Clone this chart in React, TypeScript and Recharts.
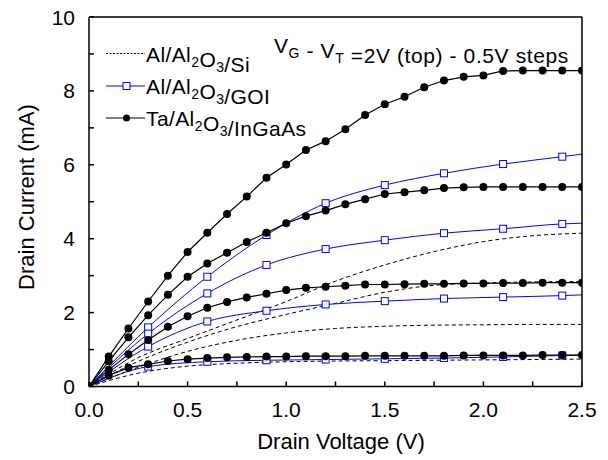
import { LineChart, Line, XAxis, YAxis } from "recharts";

// drain voltage grids (V)
const vFine = [0, 0.1, 0.2, 0.3, 0.4, 0.5, 0.6, 0.7, 0.8, 0.9, 1.0, 1.1, 1.2, 1.3, 1.4, 1.5, 1.6, 1.7, 1.8, 1.9, 2.0, 2.1, 2.2, 2.3, 2.4, 2.5];
const vGoi = [0, 0.3, 0.6, 0.9, 1.2, 1.5, 1.8, 2.1, 2.4, 2.5];
const vSi = [0, 0.25, 0.5, 0.75, 1.0, 1.25, 1.5, 1.75, 2.0, 2.25, 2.5];

// Ta/Al2O3/InGaAs (mA), VG-VT = 2, 1.5, 1, 0.5 V
const ingaas20 = [0, 0.81, 1.57, 2.3, 3.0, 3.64, 4.16, 4.67, 5.14, 5.65, 6.01, 6.4, 6.64, 6.96, 7.35, 7.64, 7.84, 8.1, 8.28, 8.38, 8.42, 8.54, 8.55, 8.55, 8.55, 8.55];
const ingaas15 = [0, 0.68, 1.33, 1.93, 2.48, 2.97, 3.33, 3.62, 3.91, 4.16, 4.42, 4.61, 4.76, 4.93, 5.07, 5.21, 5.26, 5.31, 5.37, 5.39, 5.4, 5.4, 5.4, 5.4, 5.4, 5.4];
const ingaas10 = [0, 0.45, 0.87, 1.26, 1.62, 1.9, 2.13, 2.29, 2.41, 2.51, 2.61, 2.67, 2.7, 2.73, 2.76, 2.76, 2.77, 2.78, 2.78, 2.79, 2.79, 2.8, 2.8, 2.81, 2.81, 2.81];
const ingaas05 = [0, 0.3, 0.51, 0.6, 0.69, 0.74, 0.77, 0.79, 0.8, 0.81, 0.81, 0.82, 0.82, 0.82, 0.83, 0.83, 0.83, 0.83, 0.83, 0.84, 0.84, 0.84, 0.84, 0.85, 0.85, 0.85];

// Al/Al2O3/GOI (mA)
const goi20 = [0, 1.6, 2.97, 4.1, 4.96, 5.45, 5.77, 6.02, 6.22, 6.29];
const goi15 = [0, 1.43, 2.52, 3.29, 3.72, 3.96, 4.15, 4.27, 4.4, 4.42];
const goi10 = [0, 1.08, 1.76, 2.05, 2.22, 2.31, 2.38, 2.42, 2.46, 2.48];
const goi05 = [0, 0.54, 0.67, 0.71, 0.73, 0.75, 0.77, 0.8, 0.84, 0.85];

// Al/Al2O3/Si (mA)
const si20 = [0, 0.78, 1.3, 1.8, 2.3, 2.85, 3.29, 3.65, 3.92, 4.08, 4.15];
const si15 = [0, 0.68, 1.2, 1.62, 1.95, 2.25, 2.55, 2.74, 2.8, 2.83, 2.84];
const si10 = [0, 0.52, 0.95, 1.25, 1.45, 1.57, 1.63, 1.66, 1.67, 1.68, 1.68];
const si05 = [0, 0.36, 0.55, 0.63, 0.67, 0.69, 0.7, 0.71, 0.72, 0.73, 0.74];

const xTicks = [0, 0.25, 0.5, 0.75, 1.0, 1.25, 1.5, 1.75, 2.0, 2.25, 2.5];
const xLabels = [0, 0.5, 1.0, 1.5, 2.0, 2.5];
const yTicks = [0, 1, 2, 3, 4, 5, 6, 7, 8, 9, 10];
const yLabels = [0, 2, 4, 6, 8, 10];

const FONT = "'Liberation Sans', Arial, Helvetica, sans-serif";
const BLUE = "#0000ff";

const rows = (xs: number[], ys: number[]) => xs.map((v, i) => ({ v, i: ys[i] }));

const XTick = (props: any) => {
  const { x, y, payload } = props;
  if (!xLabels.includes(payload.value)) return <g />;
  return (
    <text x={x} y={y} textAnchor="middle" fontSize={21} fontFamily={FONT} fill="#000">
      {payload.value.toFixed(1)}
    </text>
  );
};

const YTick = (props: any) => {
  const { x, y, payload } = props;
  if (!yLabels.includes(payload.value)) return <g />;
  return (
    <text x={x} y={y} dy="0.36em" textAnchor="end" fontSize={21} fontFamily={FONT} fill="#000">
      {payload.value}
    </text>
  );
};

const squareDot = (props: any) => {
  const { cx, cy, index } = props;
  if (index === vGoi.length - 1 || cx == null) return <g key={`s${index}`} />;
  return (
    <rect key={`s${index}`} x={cx - 3.5} y={cy - 3.5} width={7} height={7} fill="#fff" stroke={BLUE} strokeWidth={1} />
  );
};

const Sub = ({ t }: { t: string }) => (
  <>
    <tspan dy={5} fontSize={14}>{t}</tspan>
    <tspan dy={-5}>{""}</tspan>
  </>
);

export default function App() {
  const si = [si20, si15, si10, si05];
  const goi = [goi20, goi15, goi10, goi05];
  const ingaas = [ingaas20, ingaas15, ingaas10, ingaas05];
  const legendY = [53.5, 86, 118];
  return (
    <div style={{ position: "relative", width: 608, height: 460, margin: "-8px 0 0 -8px", fontFamily: FONT }}>
      <LineChart width={608} height={460} margin={{ top: 16, right: 20, bottom: 23.5, left: 29 }}>
        <XAxis
          dataKey="v"
          type="number"
          domain={[0, 2.5]}
          allowDataOverflow
          ticks={xTicks}
          tickSize={-5}
          tickMargin={35}
          tick={XTick}
          height={50}
          stroke="#000"
          strokeWidth={1.5}
        />
        <XAxis
          xAxisId="top"
          orientation="top"
          type="number"
          domain={[0, 2.5]}
          allowDataOverflow
          ticks={xTicks}
          tickSize={-5}
          tick={false}
          height={1}
          stroke="#000"
          strokeWidth={1.5}
        />
        <YAxis
          type="number"
          domain={[0, 10]}
          allowDataOverflow
          ticks={yTicks}
          tickSize={-5}
          tickMargin={19}
          tick={YTick}
          width={60}
          stroke="#000"
          strokeWidth={1.5}
        />
        <YAxis
          yAxisId="right"
          orientation="right"
          type="number"
          domain={[0, 10]}
          allowDataOverflow
          ticks={yTicks}
          tickSize={-5}
          tick={false}
          width={6}
          stroke="#000"
          strokeWidth={1.5}
        />
        {si.map((s, k) => (
          <Line
            key={`si${k}`}
            data={rows(vSi, s)}
            dataKey="i"
            type="monotone"
            stroke="#000"
            strokeWidth={1}
            strokeDasharray="4 3"
            dot={false}
            isAnimationActive={false}
          />
        ))}
        {goi.map((s, k) => (
          <Line
            key={`goi${k}`}
            data={rows(vGoi, s)}
            dataKey="i"
            type="monotone"
            stroke={BLUE}
            strokeWidth={1}
            dot={squareDot}
            isAnimationActive={false}
          />
        ))}
        {ingaas.map((s, k) => (
          <Line
            key={`in${k}`}
            data={rows(vFine, s)}
            dataKey="i"
            type="linear"
            stroke="#000"
            strokeWidth={1.2}
            dot={{ r: 4, fill: "#000", stroke: "#000", strokeWidth: 0 }}
            isAnimationActive={false}
          />
        ))}
      </LineChart>
      <svg
        width={608}
        height={460}
        style={{ position: "absolute", left: 0, top: 0, pointerEvents: "none" }}
        fontFamily={FONT}
      >
        <text x={34} y={197} transform="rotate(-90 34 197)" textAnchor="middle" fontSize={22}>
          Drain Current (mA)
        </text>
        <text x={341} y={449} textAnchor="middle" fontSize={22}>
          Drain Voltage (V)
        </text>

        <line x1={106} x2={145} y1={legendY[0]} y2={legendY[0]} stroke="#000" strokeWidth={1} strokeDasharray="2 1.5" />
        <line x1={106} x2={145} y1={legendY[1]} y2={legendY[1]} stroke={BLUE} strokeWidth={1} />
        <rect x={123} y={legendY[1] - 3.5} width={7} height={7} fill="#fff" stroke={BLUE} />
        <line x1={106} x2={145} y1={legendY[2]} y2={legendY[2]} stroke="#000" strokeWidth={1.2} />
        <circle cx={126.5} cy={legendY[2]} r={3.5} fill="#000" />

        <g fontSize={21} letterSpacing={0.4}>
          <text x={146} y={legendY[0] + 8}>
            Al/Al<Sub t="2" />O<Sub t="3" />/Si
          </text>
          <text x={146} y={legendY[1] + 8}>
            Al/Al<Sub t="2" />O<Sub t="3" />/GOI
          </text>
          <text x={146} y={legendY[2] + 8}>
            Ta/Al<Sub t="2" />O<Sub t="3" />/InGaAs
          </text>
        </g>
        <text x={274} y={53} fontSize={21} letterSpacing={0.6}>
          V<Sub t="G" /> - V<Sub t="T" /> =2V (top) - 0.5V steps
        </text>
      </svg>
    </div>
  );
}
